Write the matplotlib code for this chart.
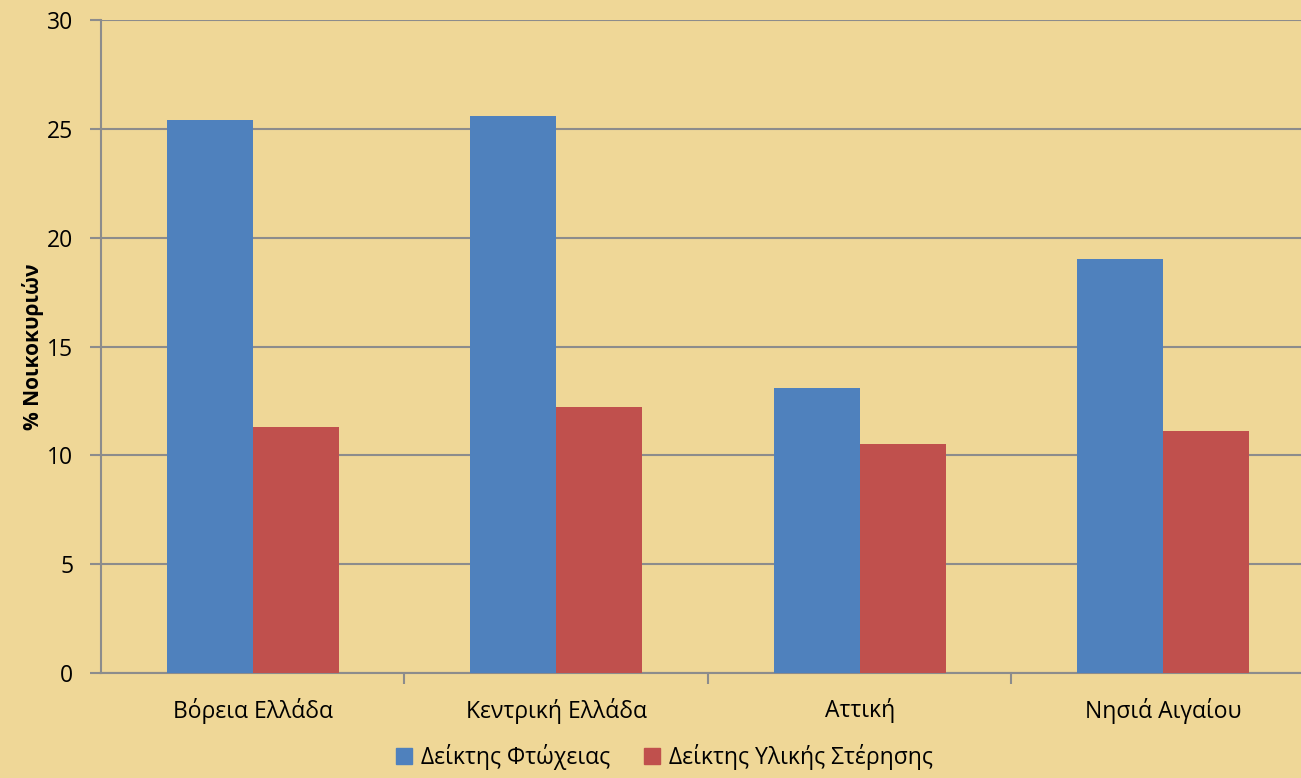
import numpy as np
import matplotlib
matplotlib.use("Agg")
import matplotlib.pyplot as plt
from matplotlib.lines import Line2D

plt.rcParams["font.family"] = ["Open Sans", "DejaVu Sans"]

regions = ["Βόρεια Ελλάδα", "Κεντρική Ελλάδα", "Αττική", "Νησιά Αιγαίου"]
poverty = [25.4, 25.6, 13.1, 19.0]
deprivation = [11.3, 12.2, 10.5, 11.1]
series_names = ["Δείκτης Φτώχειας", "Δείκτης Υλικής Στέρησης"]
colors = ["#4F81BD", "#C0504D"]
bg = "#EFD797"
grid_c = "#8C8C8C"

fig = plt.figure(figsize=(13.01, 7.78), dpi=100, facecolor=bg)
ax = fig.add_axes([101 / 1301, 1 - 673 / 778, 1 - 101 / 1301, (673 - 20) / 778])
ax.set_facecolor(bg)

x = np.arange(len(regions))
w = 0.284
ax.bar(x - w / 2, poverty, w, color=colors[0], zorder=3)
ax.bar(x + w / 2, deprivation, w, color=colors[1], zorder=3)

# plot area is cut off slightly at the right edge in the original
ax.set_xlim(-0.5, len(regions) - 0.546)
ax.set_ylim(0, 30)
ax.set_yticks(range(0, 31, 5))
ax.yaxis.grid(True, color=grid_c, linewidth=1.5, zorder=0)

ax.set_xticks(x)
ax.set_xticklabels(regions, fontsize=16.5)
ax.tick_params(axis="x", length=0, pad=18)
ax.set_xticks(np.arange(0.5, len(regions) - 0.5, 1), minor=True)
ax.tick_params(axis="x", which="minor", length=8, width=1.5, color=grid_c, direction="out")
ax.tick_params(axis="y", length=8, width=1.5, color=grid_c, labelsize=16.5, pad=12)

for s in ["top", "right"]:
    ax.spines[s].set_visible(False)
for s in ["left", "bottom"]:
    ax.spines[s].set_color(grid_c)
    ax.spines[s].set_linewidth(1.5)

ax.set_ylabel("% Νοικοκυριών", fontsize=15, fontweight="bold", labelpad=2)

handles = [Line2D([], [], marker="s", linestyle="", markersize=11, color=c) for c in colors]
fig.legend(handles, series_names, loc="lower left", bbox_to_anchor=(372 / 1301, -0.016), ncol=2,
           frameon=False, fontsize=16.5, handletextpad=0.25, columnspacing=1.3, handlelength=1.0)

fig.savefig("out.png", dpi=100, facecolor=bg)
